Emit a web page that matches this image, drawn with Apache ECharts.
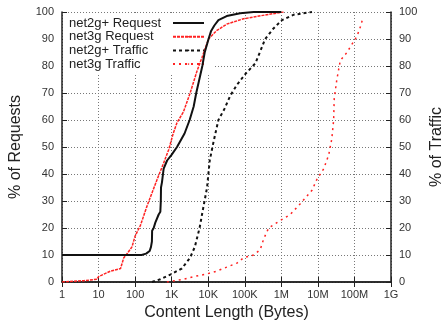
<!DOCTYPE html>
<html>
<head>
<meta charset="utf-8">
<script src="https://cdn.jsdelivr.net/npm/echarts@6/dist/echarts.min.js"></script>
<style>html,body{margin:0;padding:0;background:#fff}#chart{width:443px;height:324px}</style>
</head>
<body>
<div id="chart"></div>
<script>
var xTickLabels = ['1', '10', '100', '1K', '10K', '100K', '1M', '10M', '100M', '1G'];
var seriesNames = ['net2g+ Request', 'net3g Request', 'net2g+ Traffic', 'net3g Traffic'];

// CDF points: x = bytes, y = percent
var net2gReqX = [1, 150, 200, 250, 272, 288, 292, 322, 357, 441, 490, 505, 511, 544, 579, 604, 750, 980, 1400, 2250, 3100, 4000, 4700, 5700, 6900, 8000, 10200, 12000, 14700, 19000, 32000, 75000, 175000, 1e6];
var net2gReqY = [10, 10, 10.5, 11.5, 13, 15, 19, 20, 22, 25, 26, 30, 35, 37, 40, 42, 45, 47, 50, 55, 60, 65, 70, 75, 80, 85, 90, 93, 95, 97, 98.5, 99.5, 100, 100];

var net3gReqX = [1, 4, 9, 10, 21, 40, 49, 57, 82, 100, 140, 210, 290, 400, 600, 830, 1100, 1400, 2100, 3200, 4900, 6700, 10200, 16600, 32000, 93000, 400000, 1150000];
var net3gReqY = [0, 0.5, 1, 2, 4, 5, 9, 10, 13, 17, 21, 28, 33, 38, 44, 49, 55, 59, 63, 70, 78, 83, 90, 93, 95.5, 97.5, 99, 100];

var net2gTrafX = [290, 490, 1000, 1900, 3200, 4300, 5800, 7200, 9300, 11000, 14000, 19000, 27500, 40000, 61000, 103000, 195000, 295000, 360000, 620000, 1040000, 2200000, 6900000];
var net2gTrafY = [0, 1, 3, 5, 9, 13, 20, 27, 35, 45, 52, 60, 64, 69, 73, 77, 81, 87, 90, 94, 97, 99, 100];

var net3gTrafX = [740, 2100, 4000, 9300, 17000, 32000, 61000, 93000, 175000, 265000, 330000, 450000, 760000, 1750000, 3300000, 6900000, 9400000, 14500000, 19700000, 24000000, 27000000, 28000000, 33000000, 41000000, 62000000, 85000000, 117000000, 150000000, 171000000];
var net3gTrafY = [0, 1, 2, 3, 4, 5.5, 7, 9, 10, 12, 16, 20, 22, 25, 29, 34, 38, 42, 47, 53, 60, 68, 75, 82, 85, 88, 91, 95, 98];

function pairs(xs, ys) {
  return xs.map(function (x, i) { return [x, ys[i]]; });
}

var font = 'Liberation Sans, Arial, sans-serif';
var chart = echarts.init(document.getElementById('chart'), null, { renderer: 'canvas' });

var legendText = { fontSize: 13, lineHeight: 13, color: '#222', fontFamily: font };

var yAxisBase = {
  type: 'value', min: 0, max: 100, interval: 10,
  nameLocation: 'middle', nameGap: 38, nameRotate: 90,
  nameTextStyle: { fontSize: 16, color: '#222', fontFamily: font },
  axisLine: { show: true, lineStyle: { color: '#222', width: 1.5 } },
  axisTick: { show: true, inside: true, length: 5, lineStyle: { color: '#222' } },
  axisLabel: { fontSize: 11, color: '#333', fontFamily: font, margin: 8 },
  splitLine: { show: false }
};

var options = {
  animation: false,
  backgroundColor: '#fff',
  grid: { left: 62, right: 52, top: 12, bottom: 42, containLabel: false, outerBoundsMode: 'none' },
  legend: [{
    data: seriesNames,
    orient: 'vertical',
    left: 63,
    top: 13,
    itemWidth: 0,
    itemHeight: 0,
    itemGap: 0.7,
    padding: [3.5, 52, 3, 0],
    backgroundColor: '#fff',
    selectedMode: false,
    z: 1,
    textStyle: legendText
  }, {
    data: seriesNames,
    orient: 'vertical',
    left: 172,
    top: 13,
    itemWidth: 31,
    itemHeight: 2,
    itemGap: 0.7,
    padding: [3.5, 0, 3, 0],
    selectedMode: false,
    formatter: function () { return ' '; },
    textStyle: legendText
  }],
  xAxis: [{
    type: 'log', logBase: 10, min: 1, max: 1e9, splitNumber: 9,
    name: 'Content Length (Bytes)', nameLocation: 'middle', nameGap: 22,
    nameTextStyle: { fontSize: 16, color: '#222', fontFamily: font },
    axisLine: { show: true, lineStyle: { color: '#222', width: 1.5 } },
    axisTick: { show: true, inside: true, length: 5, lineStyle: { color: '#222' } },
    axisLabel: {
      fontSize: 11, color: '#333', fontFamily: font, margin: 7,
      formatter: function (v) { return xTickLabels[Math.round(Math.log10(v))]; }
    },
    splitLine: { show: true, lineStyle: { color: '#777', type: [1, 2], width: 1 } }
  }, {
    type: 'log', logBase: 10, min: 1, max: 1e9, splitNumber: 9, position: 'top',
    axisLine: { show: true, lineStyle: { color: '#222', width: 1.5 } },
    axisTick: { show: true, inside: true, length: 5, lineStyle: { color: '#222' } },
    axisLabel: { show: false },
    splitLine: { show: false }
  }],
  yAxis: [
    Object.assign({}, yAxisBase, {
      position: 'left', name: '% of Requests',
      splitLine: { show: true, lineStyle: { color: '#777', type: [1, 2], width: 1 } }
    }),
    Object.assign({}, yAxisBase, { position: 'right', name: '% of Traffic', nameGap: 37 })
  ],
  series: [{
    name: seriesNames[0], type: 'line', showSymbol: false, symbol: 'none', z: 5,
    data: pairs(net2gReqX, net2gReqY),
    lineStyle: { color: '#111', width: 2 }, itemStyle: { color: '#111' }
  }, {
    name: seriesNames[1], type: 'line', showSymbol: false, symbol: 'none', z: 4,
    data: pairs(net3gReqX, net3gReqY),
    lineStyle: { color: '#f22', width: 1.5, type: [3, 1] }, itemStyle: { color: '#f22' }
  }, {
    name: seriesNames[2], type: 'line', showSymbol: false, symbol: 'none', yAxisIndex: 1, z: 3,
    data: pairs(net2gTrafX, net2gTrafY),
    lineStyle: { color: '#111', width: 2, type: [3, 3] }, itemStyle: { color: '#111' }
  }, {
    name: seriesNames[3], type: 'line', showSymbol: false, symbol: 'none', yAxisIndex: 1, z: 3,
    data: pairs(net3gTrafX, net3gTrafY),
    lineStyle: { color: '#f22', width: 1.5, type: [2, 4] }, itemStyle: { color: '#f22' }
  }]
};

chart.setOption(options);
</script>
</body>
</html>
